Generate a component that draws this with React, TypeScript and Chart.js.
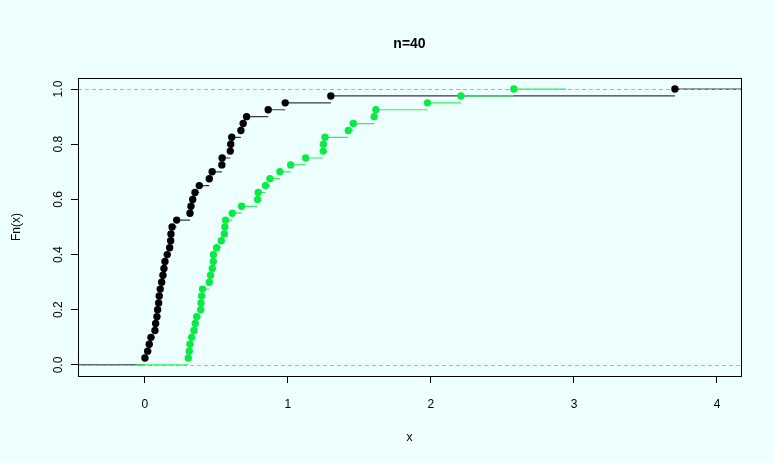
import React, { useEffect, useRef } from "react";
import { Chart, registerables } from "chart.js";
Chart.register(...registerables);

// sorted sample values (ecdf knots)
const blackX = [
  0.0, 0.019, 0.03, 0.042, 0.07, 0.075, 0.084, 0.089, 0.096, 0.1,
  0.107, 0.117, 0.126, 0.133, 0.14, 0.156, 0.173, 0.18, 0.182, 0.19,
  0.222, 0.315, 0.322, 0.334, 0.35, 0.38, 0.45, 0.47, 0.538, 0.54,
  0.597, 0.6, 0.607, 0.671, 0.687, 0.711, 0.862, 0.981, 1.3, 3.706,
];
const greenX = [
  0.303, 0.31, 0.315, 0.327, 0.343, 0.352, 0.362, 0.39, 0.392, 0.397,
  0.403, 0.45, 0.459, 0.471, 0.478, 0.479, 0.501, 0.534, 0.555, 0.559,
  0.564, 0.611, 0.676, 0.788, 0.792, 0.843, 0.874, 0.944, 1.019, 1.124,
  1.247, 1.248, 1.259, 1.422, 1.457, 1.603, 1.615, 1.976, 2.21, 2.58,
];
const xTicks = [0, 1, 2, 3, 4];
const yTicks = [0, 0.2, 0.4, 0.6, 0.8, 1.0];
const refLines = [0, 1];
const titleText = "n=40";
const xLabel = "x";
const yLabel = "Fn(x)";

const BG = "#EEFFFF";
const BLACK = "#000000";
const GREEN_PT = "#0AEA44";
const GREEN_LN = "#30F258";
const DASH_COL = "#A9B6C0";
const FONT = "'Liberation Sans', Arial, Helvetica, sans-serif";

function median(a: number[]) {
  const s = [...a].sort((p, q) => p - q);
  const m = Math.floor(s.length / 2);
  return s.length % 2 ? s[m] : (s[m - 1] + s[m]) / 2;
}

// horizontal steps of an ecdf, as R's plot.stepfun lays them out (no verticals)
function ecdfSegments(xs: number[]) {
  const n = xs.length;
  const lo = xs[0];
  const hi = xs[n - 1];
  const diffs = xs.slice(1).map((v, i) => v - xs[i]);
  const dr = Math.max(0.08 * (hi - lo), median(diffs));
  const ti = [lo - 2 * dr, ...xs, hi + 2 * dr];
  const out: { x: number; y: number | null }[] = [];
  for (let i = 0; i <= n; i++) {
    const y = i / n;
    out.push({ x: ti[i], y });
    out.push({ x: ti[i + 1], y });
    out.push({ x: ti[i + 1], y: null });
  }
  return out;
}
function ecdfPoints(xs: number[]) {
  const n = xs.length;
  return xs.map((x, i) => ({ x, y: (i + 1) / n }));
}

export default function App() {
  const ref = useRef<HTMLCanvasElement | null>(null);
  useEffect(() => {
    document.body.style.margin = "0";
    const canvas = ref.current;
    if (!canvas) return;

    const bgPlugin = {
      id: "bg",
      beforeDraw(chart: any) {
        const { ctx, width, height } = chart;
        ctx.save();
        ctx.fillStyle = BG;
        ctx.fillRect(0, 0, width, height);
        ctx.restore();
      },
    };

    const dashPlugin = {
      id: "refdash",
      afterDatasetDraw(chart: any, args: any) {
        if (args.index !== 3) return;
        const { ctx, chartArea } = chart;
        const ys = chart.scales.y;
        ctx.save();
        ctx.beginPath();
        ctx.rect(chartArea.left, chartArea.top, chartArea.right - chartArea.left, chartArea.bottom - chartArea.top);
        ctx.clip();
        ctx.strokeStyle = DASH_COL;
        ctx.lineWidth = 1;
        ctx.setLineDash([4, 3]);
        refLines.forEach((v) => {
          const y = Math.round(ys.getPixelForValue(v)) + 0.5;
          ctx.beginPath();
          ctx.moveTo(chartArea.left, y);
          ctx.lineTo(chartArea.right, y);
          ctx.stroke();
        });
        ctx.restore();
      },
    };

    const textPlugin = {
      id: "texts",
      afterDraw(chart: any) {
        const { ctx, chartArea } = chart;
        const cx = (chartArea.left + chartArea.right) / 2;
        const cy = (chartArea.top + chartArea.bottom) / 2;
        ctx.save();
        ctx.strokeStyle = "#000";
        ctx.lineWidth = 1;
        ctx.strokeRect(
          Math.round(chartArea.left) + 0.5,
          Math.round(chartArea.top) + 0.5,
          Math.round(chartArea.right - chartArea.left),
          Math.round(chartArea.bottom - chartArea.top)
        );
        ctx.fillStyle = "#000";
        ctx.textAlign = "center";
        ctx.textBaseline = "middle";
        ctx.font = `bold 14px ${FONT}`;
        ctx.fillText(titleText, cx, 44);
        ctx.font = `12px ${FONT}`;
        ctx.fillText(xLabel, cx, 438);
        ctx.translate(17, cy);
        ctx.rotate(-Math.PI / 2);
        ctx.fillText(yLabel, 0, 0);
        ctx.restore();
      },
    };

    const chart = new Chart(canvas, {
      type: "line",
      data: {
        datasets: [
          {
            label: "green points",
            data: ecdfPoints(greenX),
            showLine: false,
            pointRadius: 3.7,
            pointBorderWidth: 0,
            pointBackgroundColor: GREEN_PT,
            pointBorderColor: GREEN_PT,
          },
          {
            label: "green steps",
            data: ecdfSegments(greenX),
            borderColor: GREEN_LN,
            borderWidth: 1.2,
            pointRadius: 0,
            spanGaps: false,
          },
          {
            label: "black points",
            data: ecdfPoints(blackX),
            showLine: false,
            pointRadius: 3.7,
            pointBorderWidth: 0,
            pointBackgroundColor: BLACK,
            pointBorderColor: BLACK,
          },
          {
            label: "black steps",
            data: ecdfSegments(blackX),
            borderColor: "#3a3a3a",
            borderWidth: 1.2,
            pointRadius: 0,
            spanGaps: false,
          },
        ] as any,
      },
      options: {
        animation: false,
        responsive: false,
        events: [],
        layout: { padding: { left: 0, top: 78, right: 33, bottom: 0 } },
        plugins: {
          legend: { display: false },
          tooltip: { enabled: false },
          title: { display: false },
        },
        scales: {
          x: {
            type: "linear",
            min: -0.468,
            max: 4.168,
            afterBuildTicks: (s: any) => {
              s.ticks = xTicks.map((v) => ({ value: v }));
            },
            afterFit: (s: any) => {
              s.height = 87;
            },
            ticks: {
              padding: 14,
              color: "#000",
              font: { size: 12, family: FONT },
              callback: (v: any) => String(v),
              maxRotation: 0,
            },
            grid: { drawOnChartArea: false, drawTicks: true, tickLength: 7, color: "#000" },
            border: { display: false },
          },
          y: {
            type: "linear",
            min: -0.04,
            max: 1.04,
            afterBuildTicks: (s: any) => {
              s.ticks = yTicks.map((v) => ({ value: v }));
            },
            afterFit: (s: any) => {
              s.width = 78;
            },
            ticks: {
              padding: 4,
              color: "#000",
              minRotation: 90,
              maxRotation: 90,
              crossAlign: "center",
              font: { size: 12, family: FONT },
              callback: (v: any) => Number(v).toFixed(1),
            },
            grid: { drawOnChartArea: false, drawTicks: true, tickLength: 7, color: "#000" },
            border: { display: false },
          },
        },
      } as any,
      plugins: [bgPlugin, dashPlugin, textPlugin],
    });
    return () => chart.destroy();
  }, []);

  return (
    <div style={{ width: 774, height: 463 }}>
      <canvas ref={ref} width={774} height={463} style={{ display: "block" }} />
    </div>
  );
}
